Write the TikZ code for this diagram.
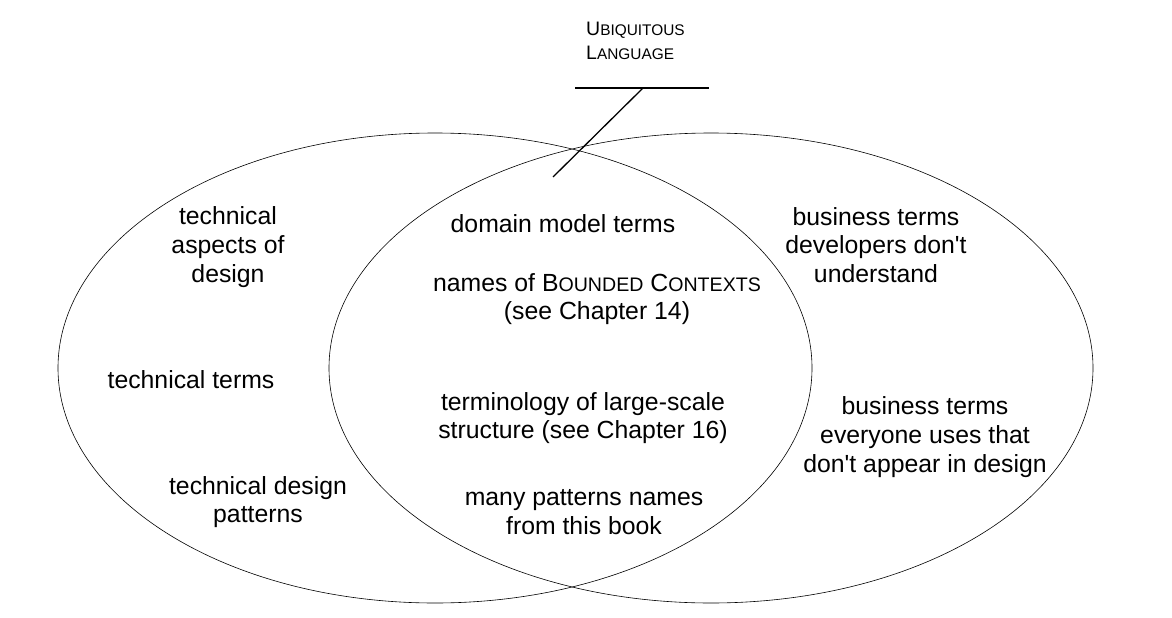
\documentclass[tikz,border=0pt]{standalone}
\usepackage{fontspec}
\setmainfont{Liberation Sans}
\usetikzlibrary{shapes.geometric}
\newcommand\bigsc[2]{#1{\fontsize{19.6}{19.6}\selectfont #2}}
\newcommand\titlesc[2]{{\fontsize{19.5}{24}\selectfont #1}{\fontsize{15.4}{24}\selectfont #2}}
\newcommand\apos{\textquotesingle}
\tikzset{
  venn/.style={draw, ellipse, line width=0.6pt, inner sep=0pt},
  term/.style={align=center, inner sep=0pt, font=\fontsize{24.8}{28.8}\selectfont},
  ptr/.style={line width=1.3pt},
}
\begin{document}
\begin{tikzpicture}[x=1pt,y=-1pt]
\useasboundingbox (0,0) rectangle (1172,618);
\node[venn, minimum width=754pt, minimum height=470pt] (left) at (435,368) {};
\node[venn, minimum width=764pt, minimum height=470pt] (right) at (711,368) {};
% title
\node[align=left, anchor=north west, inner sep=0pt, font=\fontsize{19.5}{24}\selectfont] (ul) at (586,22)
  {\titlesc{U}{BIQUITOUS}\\\titlesc{L}{ANGUAGE}};
\coordinate (ulA) at (575,88);
\coordinate (ulB) at (709,88);
\coordinate (knee) at (643,88);
\coordinate (tip) at (553,177);
\draw[ptr] (ulA) -- (ulB);
\draw[ptr] (knee) -- (tip);
% left only
\node[term] (t1) at (228,247) {technical\\aspects of\\design};
\node[term] (t2) at (191,380) {technical terms};
\node[term] (t3) at (258,502) {technical design\\patterns};
% intersection
\node[term] (m1) at (563,224) {domain model terms};
\node[term] (m2) at (597,299) {names of \bigsc{B}{OUNDED} \bigsc{C}{ONTEXTS}\\(see Chapter 14)};
\node[term] (m3) at (583,418) {terminology of large-scale\\structure (see Chapter 16)};
\node[term] (m4) at (584,512) {many patterns names\\from this book};
% right only
\node[term] (r1) at (876,245) {business terms\\developers don\apos t\\understand};
\node[term] (r2) at (925,437) {business terms\\everyone uses that\\don\apos t appear in design};
\end{tikzpicture}
\end{document}
